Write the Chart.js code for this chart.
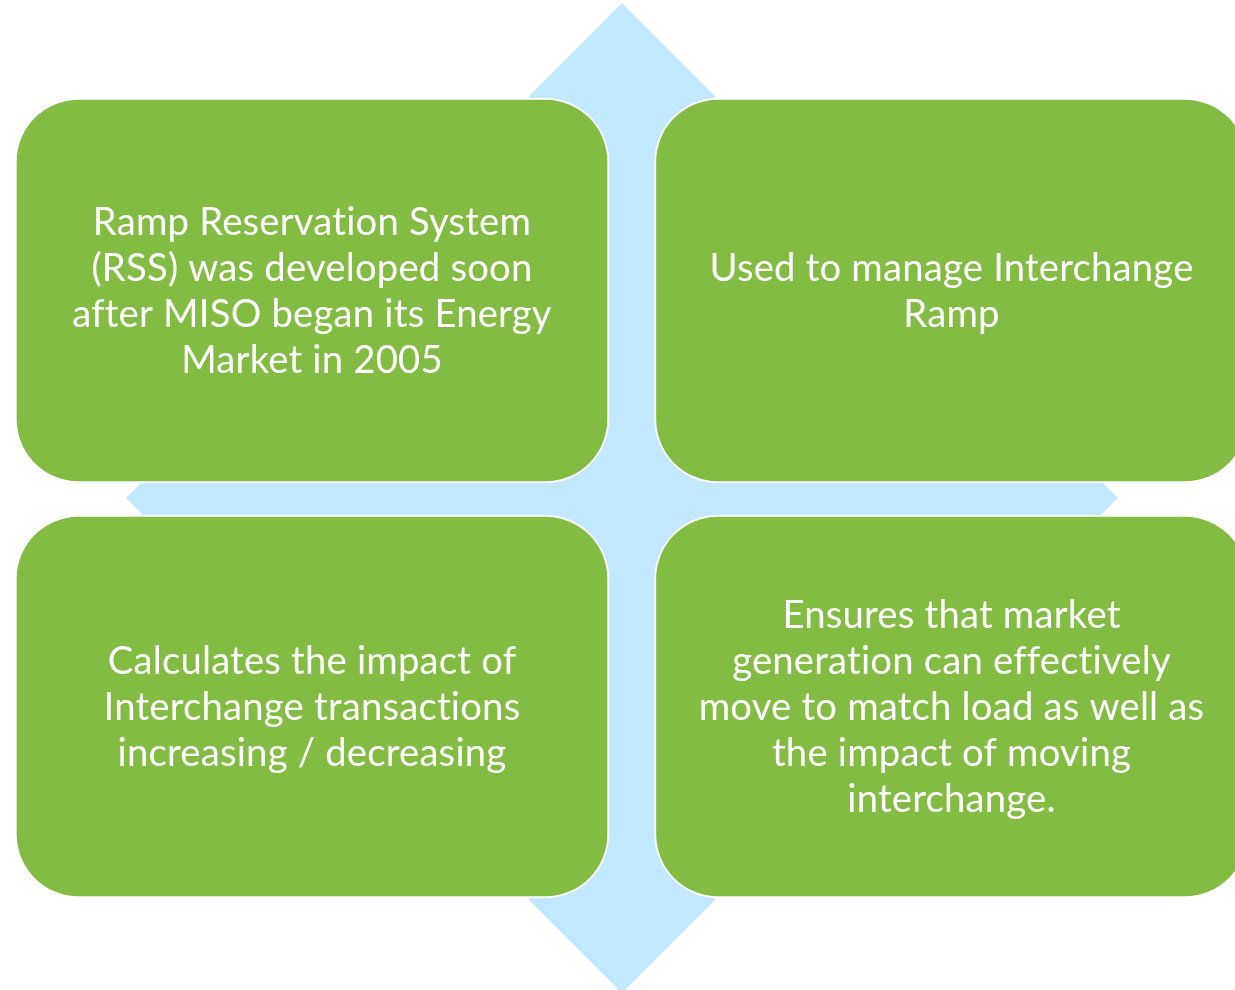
<!DOCTYPE html>
<html>
<head>
<meta charset="utf-8">
<script src="https://cdn.jsdelivr.net/npm/chart.js@4/dist/chart.umd.min.js"></script>
<style>
html,body{margin:0;padding:0;background:#fff;overflow:hidden;}
#wrap{width:1235px;height:990px;position:relative;}
</style>
</head>
<body>
<div id="wrap"><canvas id="c" width="1235" height="990"></canvas></div>
<script>
// ---- Data (diagram coordinates in a 1235 x 990 frame, y downward) ----
const crossX = [622, 715, 715, 1025, 1118, 1025, 715, 715, 622, 529, 529, 219, 126, 219, 529, 529, 622];
const crossY = [3, 96, 405, 405, 498, 591, 591, 900, 993, 900, 591, 591, 498, 405, 405, 96, 3];

const boxCenterX = [312, 951.5, 312, 951.5];
const boxTop     = [98, 98, 515, 515];
const boxBottom  = [483, 483, 898, 898];

const boxText = [
  ["Ramp Reservation System", "(RSS) was developed soon", "after MISO began its Energy", "Market in 2005"],
  ["Used to manage Interchange", "Ramp"],
  ["Calculates the impact of", "Interchange transactions", "increasing / decreasing"],
  ["Ensures that market", "generation can effectively", "move to match load as well as", "the impact of moving", "interchange."]
];

const GREEN = '#82BC42';
const BLUE = '#C2E8FE';
const FONT = 'Lato, "Open Sans", "DejaVu Sans", sans-serif';

const textPlugin = {
  id: 'boxText',
  afterDatasetsDraw(chart) {
    const ctx = chart.ctx;
    const xs = chart.scales.x, ys = chart.scales.y;
    ctx.save();
    try { ctx.letterSpacing = '0.2px'; } catch (e) {}
    ctx.font = '36px ' + FONT;
    const w = ctx.measureText('after MISO began its Energy').width;
    const size = Math.min(40, 36 * 480 / w);
    ctx.font = size.toFixed(2) + 'px ' + FONT;
    ctx.fillStyle = '#ffffff';
    ctx.textAlign = 'center';
    ctx.textBaseline = 'middle';
    const lh = 46;
    boxText.forEach((lines, i) => {
      const cx = xs.getPixelForValue(boxCenterX[i]);
      const cy = (ys.getPixelForValue(boxTop[i]) + ys.getPixelForValue(boxBottom[i])) / 2;
      const y0 = cy - (lines.length - 1) * lh / 2;
      lines.forEach((t, j) => ctx.fillText(t, cx, y0 + j * lh + 1));
    });
    ctx.restore();
  }
};

new Chart(document.getElementById('c'), {
  type: 'scatter',
  data: {
    datasets: [
      {
        type: 'bar',
        order: 1,
        data: boxCenterX.map((x, i) => ({ x: x, y: [boxTop[i], boxBottom[i]] })),
        backgroundColor: GREEN,
        borderColor: '#ffffff',
        borderWidth: 2,
        borderSkipped: false,
        borderRadius: 64,
        barThickness: 594
      },
      {
        type: 'line',
        order: 2,
        data: crossX.map((x, i) => ({ x: x, y: crossY[i] })),
        showLine: true,
        fill: 'shape',
        backgroundColor: BLUE,
        borderColor: BLUE,
        borderWidth: 0,
        pointRadius: 0,
        tension: 0
      }
    ]
  },
  options: {
    responsive: false,
    maintainAspectRatio: false,
    animation: false,
    events: [],
    layout: { padding: 0 },
    plugins: { legend: { display: false }, tooltip: { enabled: false } },
    scales: {
      x: { type: 'linear', min: 0, max: 1235, display: false, offset: false },
      y: { type: 'linear', min: 0, max: 990, reverse: true, display: false, offset: false }
    }
  },
  plugins: [textPlugin]
});
</script>
</body>
</html>
